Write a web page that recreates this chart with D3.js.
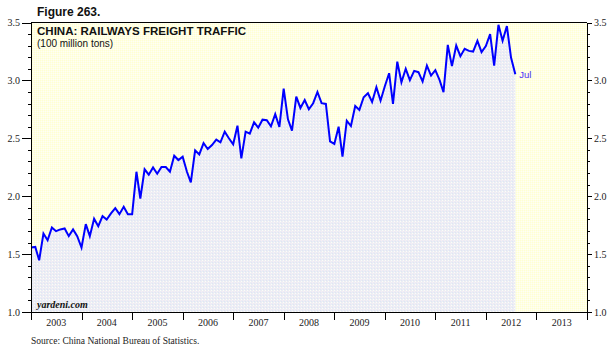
<!DOCTYPE html>
<html>
<head>
<meta charset="utf-8">
<script src="https://cdn.jsdelivr.net/npm/d3@7"></script>
<style>
  html, body { margin: 0; padding: 0; background: #fff; }
  svg { display: block; }
</style>
</head>
<body>
<svg id="chart" width="615" height="355"></svg>
<script>
// ---- data ----
const firstMonth = [2002, 11]; // Dec 2002 (year, 0-based month); points plotted at month end
const freight = [
  1.557, 1.562, 1.447, 1.678, 1.620, 1.730, 1.698, 1.713, 1.721, 1.655, 1.713, 1.655,
  1.557, 1.759, 1.655, 1.805, 1.741, 1.828, 1.799, 1.851, 1.897, 1.845, 1.908, 1.845,
  1.845, 2.211, 1.980, 2.232, 2.186, 2.248, 2.194, 2.252, 2.252, 2.211, 2.349, 2.312,
  2.341, 2.211, 2.119, 2.396, 2.361, 2.459, 2.407, 2.442, 2.488, 2.465, 2.557, 2.500,
  2.448, 2.609, 2.327, 2.557, 2.540, 2.638, 2.592, 2.661, 2.656, 2.604, 2.709, 2.598,
  2.929, 2.664, 2.566, 2.860, 2.762, 2.831, 2.751, 2.803, 2.900, 2.803, 2.797, 2.474,
  2.451, 2.600, 2.341, 2.652, 2.606, 2.779, 2.745, 2.855, 2.889, 2.814, 2.941, 2.825,
  2.950, 3.062, 2.797, 3.162, 2.984, 3.100, 3.002, 3.082, 3.071, 2.990, 3.128, 3.042,
  3.088, 3.002, 2.898, 3.307, 3.123, 3.301, 3.209, 3.273, 3.255, 3.249, 3.342, 3.244,
  3.296, 3.400, 3.128, 3.480, 3.342, 3.469, 3.197, 3.054
];
const yearLabels = ["2003","2004","2005","2006","2007","2008","2009","2010","2011","2012","2013"];
const yTicks = [1.0, 1.5, 2.0, 2.5, 3.0, 3.5];
const lastLabel = "Jul";

// ---- layout ----
const L = 31, R = 587, T = 22.5, B = 312;
const svg = d3.select("#chart");

const x = d3.scaleTime()
  .domain([new Date(+yearLabels[0], 0, 1), new Date(+yearLabels[yearLabels.length - 1] + 1, 0, 1)])
  .range([L, R]);
const y = d3.scaleLinear().domain([1.0, 3.5]).range([B, T]);

const pts = freight.map((v, i) => ({ date: new Date(firstMonth[0], firstMonth[1] + i + 1, 1), v }));

// patterns
const defs = svg.append("defs");
const py = defs.append("pattern").attr("id", "yel").attr("width", 2).attr("height", 2)
  .attr("patternUnits", "userSpaceOnUse");
py.append("rect").attr("width", 2).attr("height", 2).attr("fill", "#ffffe4");
py.append("rect").attr("width", 1).attr("height", 1).attr("fill", "#ffffd2");
py.append("rect").attr("x", 1).attr("y", 1).attr("width", 1).attr("height", 1).attr("fill", "#fffff4");

const pb = defs.append("pattern").attr("id", "lav").attr("width", 3).attr("height", 3)
  .attr("patternUnits", "userSpaceOnUse");
pb.append("rect").attr("width", 3).attr("height", 3).attr("fill", "#ebedf5");
pb.append("rect").attr("x", 0).attr("y", 0).attr("width", 1).attr("height", 1).attr("fill", "#f7edf3");
pb.append("rect").attr("x", 2).attr("y", 1).attr("width", 1).attr("height", 1).attr("fill", "#e0e6f3");
pb.append("rect").attr("x", 1).attr("y", 2).attr("width", 1).attr("height", 1).attr("fill", "#fdfdf6");

// plot background
svg.append("rect").attr("x", L).attr("y", T).attr("width", R - L).attr("height", B - T)
  .attr("fill", "url(#yel)");

// area under line
svg.append("path").datum(pts)
  .attr("d", d3.area().x(d => x(d.date)).y0(B).y1(d => y(d.v)))
  .attr("fill", "url(#lav)");

// line
svg.append("path").datum(pts)
  .attr("d", d3.line().x(d => x(d.date)).y(d => y(d.v)))
  .attr("fill", "none").attr("stroke", "#0000ff").attr("stroke-width", 2)
  .attr("stroke-linejoin", "miter");

// last label
const last = pts[pts.length - 1];
svg.append("text").attr("x", x(last.date) + 4).attr("y", y(last.v) + 3.5)
  .attr("font-family", "Liberation Sans, Arial, sans-serif").attr("font-size", 9.5)
  .attr("fill", "#4a2cf5").text(lastLabel);

// frame / axes
const axisG = svg.append("g").attr("shape-rendering", "crispEdges");
axisG.append("line").attr("x1", L).attr("x2", R).attr("y1", T).attr("y2", T).attr("stroke", "#000");

const minor = d3.range(10, 36).map(d => d / 10);
const yl = d3.axisLeft(y).tickValues(minor).tickSize(3).tickFormat("");
const yr = d3.axisRight(y).tickValues(minor).tickSize(3).tickFormat("");
const ylM = d3.axisLeft(y).tickValues(yTicks).tickSize(9).tickFormat(d3.format(".1f"));
const yrM = d3.axisRight(y).tickValues(yTicks).tickSize(5).tickFormat(d3.format(".1f"));

function styleAxis(g) {
  g.selectAll("path.domain").remove();
  g.selectAll("line").attr("stroke", "#000");
  g.selectAll("text").attr("font-family", "Liberation Serif, Times New Roman, serif")
    .attr("font-size", 10).attr("fill", "#222");
}
axisG.append("g").attr("transform", `translate(${L},0)`).call(yl).call(styleAxis);
axisG.append("g").attr("transform", `translate(${L},0)`).call(ylM).call(styleAxis)
  .selectAll("text").attr("x", -11);
axisG.append("g").attr("transform", `translate(${R},0)`).call(yr).call(styleAxis);
axisG.append("g").attr("transform", `translate(${R},0)`).call(yrM).call(styleAxis)
  .selectAll("text").attr("x", 7);

// vertical axis lines
axisG.append("line").attr("x1", L).attr("x2", L).attr("y1", T).attr("y2", B).attr("stroke", "#000");
axisG.append("line").attr("x1", R).attr("x2", R).attr("y1", T).attr("y2", B).attr("stroke", "#000");

// bottom axis: year boundary ticks + centered labels
const yearStarts = yearLabels.map(s => new Date(+s, 0, 1)).concat([x.domain()[1]]);
const xa = d3.axisBottom(x).tickValues(yearStarts).tickSize(8).tickFormat("");
axisG.append("g").attr("transform", `translate(0,${B})`).call(xa).call(g => {
  g.select("path.domain").attr("stroke", "#000");
  g.selectAll("line").attr("stroke", "#000");
});
svg.append("g").selectAll("text").data(yearLabels).join("text")
  .attr("x", d => (x(new Date(+d, 0, 1)) + x(new Date(+d + 1, 0, 1))) / 2)
  .attr("y", B + 14)
  .attr("text-anchor", "middle")
  .attr("font-family", "Liberation Serif, Times New Roman, serif").attr("font-size", 10)
  .attr("fill", "#222").text(d => d);

// titles
svg.append("text").attr("x", 37).attr("y", 16)
  .attr("font-family", "Liberation Sans, Arial, sans-serif").attr("font-weight", "bold")
  .attr("font-size", 12).attr("fill", "#111").text("Figure 263.");
svg.append("text").attr("x", 37).attr("y", 35)
  .attr("font-family", "Liberation Sans, Arial, sans-serif").attr("font-weight", "bold")
  .attr("font-size", 11).attr("fill", "#111")
  .attr("textLength", 209).attr("lengthAdjust", "spacingAndGlyphs")
  .text("CHINA: RAILWAYS FREIGHT TRAFFIC");
svg.append("text").attr("x", 37).attr("y", 47)
  .attr("font-family", "Liberation Sans, Arial, sans-serif")
  .attr("font-size", 10).attr("fill", "#111").text("(100 million tons)");

svg.append("text").attr("x", 37).attr("y", 308)
  .attr("font-family", "Liberation Serif, Times New Roman, serif").attr("font-weight", "bold")
  .attr("font-style", "italic").attr("font-size", 10).attr("fill", "#111").text("yardeni.com");

svg.append("text").attr("x", 31).attr("y", 344)
  .attr("font-family", "Liberation Serif, Times New Roman, serif")
  .attr("font-size", 9.5).attr("fill", "#222").text("Source: China National Bureau of Statistics.");
</script>
</body>
</html>
